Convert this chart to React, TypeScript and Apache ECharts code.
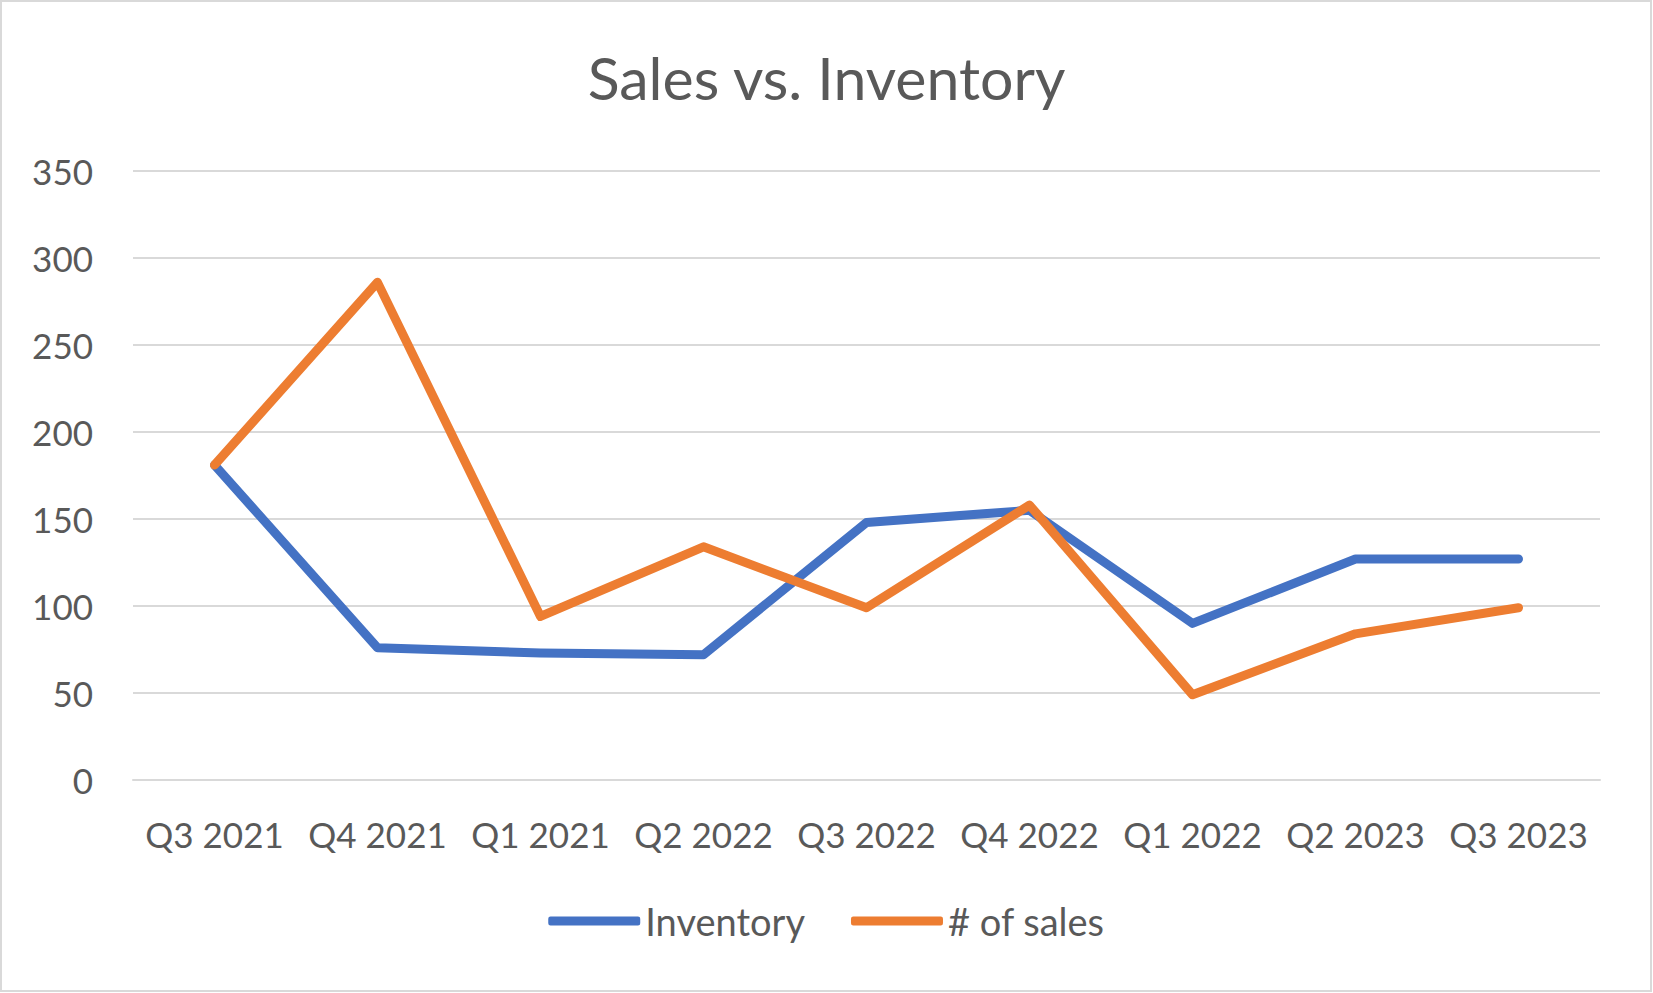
import React, { useEffect, useRef } from "react";
import * as echarts from "echarts";

const categories = ["Q3 2021", "Q4 2021", "Q1 2021", "Q2 2022", "Q3 2022", "Q4 2022", "Q1 2022", "Q2 2023", "Q3 2023"];
const inventory = [181, 76, 73, 72, 148, 155, 90, 127, 127];
const sales = [181, 286, 94, 134, 99, 158, 49, 84, 99];
const yTicks = { min: 0, max: 350, interval: 50 };

export default function App() {
  const ref = useRef<HTMLDivElement>(null);
  useEffect(() => {
    document.body.style.margin = "0";
    const chart = echarts.init(ref.current!, null, { renderer: "svg" });
    const font = "Lato, 'Open Sans', sans-serif";
    chart.setOption({
      animation: false,
      backgroundColor: "#ffffff",
      title: {
        text: "Sales vs. Inventory",
        left: "center",
        top: 43,
        textStyle: { fontFamily: font, fontSize: 59, fontWeight: "normal", color: "#595959" },
      },
      graphic: [
        {
          type: "rect",
          shape: { x: 1, y: 1, width: 1650, height: 990 },
          style: { fill: "none", stroke: "#d9d9d9", lineWidth: 2 },
          silent: true,
        },
      ],
      grid: { left: 133, right: 53, top: 171, bottom: 213, containLabel: false },
      legend: {
        bottom: 48,
        left: "center",
        itemWidth: 92,
        itemHeight: 9,
        itemGap: 46,
        icon: "roundRect",
        textStyle: { fontFamily: font, fontSize: 38, color: "#595959" },
        data: ["Inventory", "# of sales"],
      },
      xAxis: {
        type: "category",
        data: categories,
        boundaryGap: true,
        axisLine: { show: true, lineStyle: { color: "#d9d9d9", width: 2 } },
        axisTick: { show: false },
        axisLabel: { interval: 0, margin: 36, fontFamily: font, fontSize: 35, color: "#595959" },
      },
      yAxis: {
        type: "value",
        min: yTicks.min,
        max: yTicks.max,
        interval: yTicks.interval,
        axisLine: { show: false },
        axisTick: { show: false },
        splitLine: { lineStyle: { color: "#d9d9d9", width: 2 } },
        axisLabel: { margin: 40, fontFamily: font, fontSize: 35, color: "#595959" },
      },
      series: [
        {
          name: "Inventory",
          type: "line",
          data: inventory,
          symbol: "none",
          itemStyle: { color: "#4472C4" },
          lineStyle: { color: "#4472C4", width: 9, cap: "round", join: "round" },
        },
        {
          name: "# of sales",
          type: "line",
          data: sales,
          symbol: "none",
          itemStyle: { color: "#ED7D31" },
          lineStyle: { color: "#ED7D31", width: 9, cap: "round", join: "round" },
        },
      ],
    });
    return () => chart.dispose();
  }, []);
  return <div ref={ref} style={{ width: 1653, height: 993 }} />;
}
